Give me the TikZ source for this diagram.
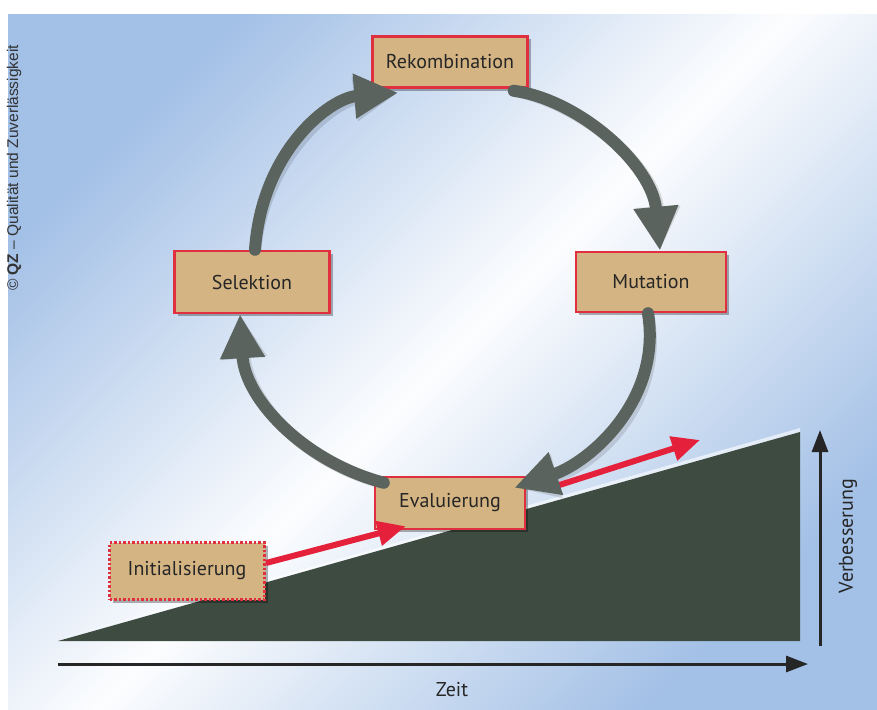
\documentclass[tikz,border=0pt]{standalone}
\usepackage{fontspec}
\setmainfont{PT Sans}
\newfontfamily\copyfont{Liberation Sans}
\usetikzlibrary{arrows.meta,shadows,calc}
\definecolor{bgblue}{HTML}{A3C0E6}
\definecolor{boxfill}{HTML}{D4B482}
\definecolor{boxred}{HTML}{E0303F}
\definecolor{arrowgray}{HTML}{5B635F}
\definecolor{hill}{HTML}{3E4B40}
\definecolor{redarrow}{HTML}{E4203A}
\begin{document}
\begin{tikzpicture}[x=1pt,y=-1pt,
  stepbox/.style={draw=boxred,line width=2.5pt,fill=boxfill,inner sep=0pt,
    font=\fontsize{20}{24}\selectfont,text=black!85,
    drop shadow={shadow xshift=3pt,shadow yshift=-3pt,opacity=0.3,fill=black}},
  cyclearrow/.style={draw=arrowgray,line width=12pt,line cap=round,
    -{Triangle[length=44pt,width=42pt]}},
  cycleshadow/.style={draw=black,opacity=0.12,line width=12pt,line cap=round,
    -{Triangle[length=44pt,width=42pt]}},
  redarr/.style={draw=redarrow,line width=6pt,-{Triangle[length=28pt,width=24pt]}},
  axisarr/.style={draw=black!85,line width=3pt,-{Triangle[length=22pt,width=16pt]}},
  lbl/.style={font=\fontsize{20}{24}\selectfont,text=black!85}
]
\useasboundingbox (0,0) rectangle (877,709);
\fill[white] (0,0) rectangle (877,709);
\begin{scope}[yscale=-1]
\shade[top color=bgblue,bottom color=bgblue,middle color=white!97!bgblue,shading angle=45]
  (8,-15) rectangle (877,-709);
\end{scope}

% copyright
\node[rotate=90,anchor=west,inner sep=0pt,font=\copyfont\fontsize{15.5}{18}\selectfont,text=black!80]
  (copy) at (14,291) {© \textbf{QZ} – Qualität und Zuverlässigkeit};

% hill
\fill[white,opacity=0.6] (54,640) -- (800,428) -- (800,434) -- cycle;
\fill[hill] (58,641) -- (800,432) -- (800,641) -- cycle;

% axes
\coordinate (x0) at (58,664);
\coordinate (x1) at (808,664);
\coordinate (y0) at (820,646);
\coordinate (y1) at (820,430);
\draw[axisarr] (x0) -- (x1);
\draw[axisarr] (y0) -- (y1);
\node[lbl] (zeit) at (452,690) {Zeit};
\node[lbl,rotate=90] (verb) at (848,536) {Verbesserung};

% boxes
\node[stepbox,minimum width=155pt,minimum height=51pt] (rek) at (450,62) {Rekombination};
\node[stepbox,minimum width=155pt,minimum height=62pt] (sel) at (252,282) {Selektion};
\node[stepbox,minimum width=150pt,minimum height=60pt] (mut) at (651,282) {Mutation};
\node[stepbox,minimum width=150pt,minimum height=52pt] (eva) at (450,503) {Evaluierung};
\node[stepbox,draw=boxred,dotted,line width=3pt,minimum width=155pt,minimum height=57pt] (ini) at (187,571) {Initialisierung};

% red arrows
\coordinate (r2s) at (550,488);
\coordinate (r2e) at (700,440);
\draw[redarr] ([yshift=8pt]ini.east) -- ([xshift=32pt,yshift=4pt]eva.south west);
\draw[redarr] (r2s) -- (r2e);

% cycle arrows (shadows)
\begin{scope}[shift={(4,4)}]
\draw[cycleshadow] ([xshift=3pt]sel.north) .. controls (262,150) and (330,98) .. ([xshift=27pt,yshift=-4pt]rek.south west);
\draw[cycleshadow] ([xshift=-15pt,yshift=-2pt]rek.south east) .. controls (580,100) and (652,165) .. ([xshift=9pt]mut.north);
\draw[cycleshadow] ([xshift=-3pt]mut.south) .. controls (662,400) and (590,462) .. ([xshift=-12pt,yshift=-12pt]eva.north east);
\draw[cycleshadow] ([xshift=10pt,yshift=-7pt]eva.north west) .. controls (305,462) and (245,400) .. ([xshift=-12pt]sel.south);
\end{scope}
\draw[cyclearrow] ([xshift=3pt]sel.north) .. controls (262,150) and (330,98) .. ([xshift=27pt,yshift=-4pt]rek.south west);
\draw[cyclearrow] ([xshift=-15pt,yshift=-2pt]rek.south east) .. controls (580,100) and (652,165) .. ([xshift=9pt]mut.north);
\draw[cyclearrow] ([xshift=-3pt]mut.south) .. controls (662,400) and (590,462) .. ([xshift=-12pt,yshift=-12pt]eva.north east);
\draw[cyclearrow] ([xshift=10pt,yshift=-7pt]eva.north west) .. controls (305,462) and (245,400) .. ([xshift=-12pt]sel.south);
\end{tikzpicture}
\end{document}
